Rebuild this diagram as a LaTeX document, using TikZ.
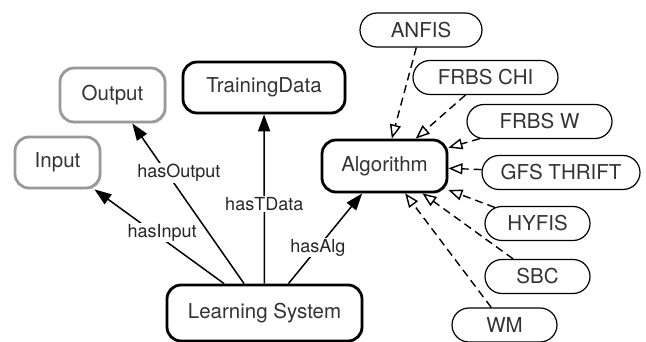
\documentclass[tikz,border=0pt]{standalone}
\usepackage{fontspec}
\setmainfont{TeX Gyre Heros}
\usetikzlibrary{positioning,arrows.meta,shapes.misc,shadows}

\begin{document}
\begin{tikzpicture}[
	x=1pt, y=-1pt,
	box/.style={
		draw=black, line width=2.8pt, rounded corners=14pt, fill=white,
		inner sep=0pt, text=black!80, font=\fontsize{20.5}{24}\selectfont,
		drop shadow={opacity=0.25, shadow xshift=1.5pt, shadow yshift=-1.5pt}
	},
	softbox/.style={
		box, draw=black!40
	},
	algbox/.style={
		rounded rectangle, draw=black, line width=1.2pt, fill=white,
		inner sep=0pt, minimum height=34pt, text=black!80,
		font=\fontsize{20.5}{24}\selectfont
	},
	rel/.style={
		-{Triangle[length=17pt, width=12pt]}, line width=1.5pt
	},
	impl/.style={
		-{Triangle[open, length=14pt, width=11pt]}, line width=1.4pt,
		dash pattern=on 8pt off 5pt
	},
	rel_text/.style={
		fill=white, inner sep=1pt, text=black!85, font=\fontsize{18}{20}\selectfont
	}
	]
	\useasboundingbox (0,0) rectangle (646,342);

	% === Khung chính ===
	\node[box, minimum width=195pt, minimum height=56pt] (ls) at (264.5,313) {Learning System};
	\node[box, minimum width=162pt, minimum height=51pt] (tdata) at (264,87.5) {TrainingData};
	\node[box, minimum width=125pt, minimum height=52pt] (alg) at (384.5,166) {Algorithm};
	\node[softbox, minimum width=105pt, minimum height=54pt] (out) at (112.5,95) {Output};
	\node[softbox, minimum width=85pt, minimum height=51pt] (inp) at (57.5,162.5) {Input};

	% === Các thuật toán ===
	\foreach \id/\txt/\px/\py/\w in {
		anfis/ANFIS/421/30/122,
		chi/FRBS CHI/485.5/77.5/145,
		frbsw/FRBS W/539.5/121.5/145,
		thrift/GFS THRIFT/561/172.5/158,
		hyfis/HYFIS/537.5/223.5/105,
		sbc/SBC/537.5/276.5/105,
		wm/WM/504.5/325/105} {
		\node[algbox, minimum width=\w pt] (\id) at (\px,\py) {\txt};
	}

	% Quan hệ của Learning System
	\draw[rel] (ls) -- (inp) node[rel_text, pos=0.54, xshift=8pt] {hasInput};
	\draw[rel] (ls) -- (out) node[rel_text, pos=0.69, xshift=12pt] {hasOutput};
	\draw[rel] (ls) -- (tdata) node[rel_text, pos=0.47] {hasTData};
	\draw[rel] (ls) -- (alg) node[rel_text, pos=0.4] {hasAlg};

	% Mũi tên nét đứt về Algorithm
	\foreach \id in {anfis,chi,frbsw,thrift,hyfis,sbc,wm} {
		\draw[impl] (\id) -- (alg);
	}

\end{tikzpicture}
\end{document}
